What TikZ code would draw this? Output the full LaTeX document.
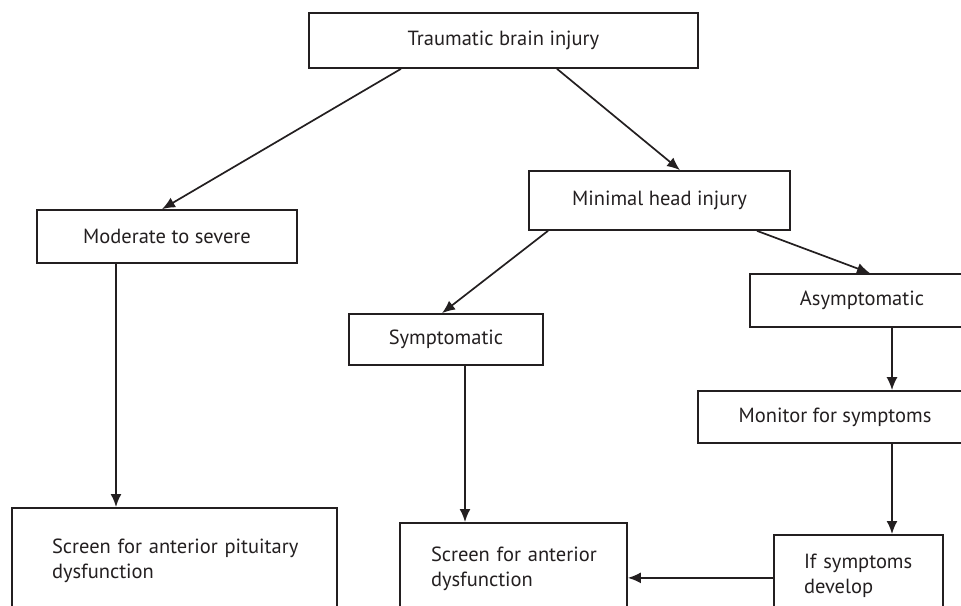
\documentclass[tikz,border=0pt]{standalone}
\usepackage{fontspec}
\setmainfont{PT Sans}
\usepackage{tikz}
\usetikzlibrary{arrows.meta,positioning}
\definecolor{FlowInk}{RGB}{35,31,32}

\begin{document}
\begin{tikzpicture}[
        x=1pt, y=-1pt,
        box/.style={draw=FlowInk, line width=1.7pt, text=FlowInk, inner sep=0pt,
                                align=center, font=\fontsize{20.5}{25}\selectfont},
        lowbox/.style={box, anchor=north, align=left},
        arr/.style={-{Latex[length=13pt,width=11pt]}, line width=1.7pt, draw=FlowInk}
]
    \useasboundingbox (0,0) rectangle (961,605);
    \clip (0,0) rectangle (961,605);
    \node[box, minimum width=389pt, minimum height=55pt] (tbi)   at (503.5,40.5) {Traumatic brain injury};
    \node[box, minimum width=261pt, minimum height=59pt] (mhi)   at (659.5,200.5) {Minimal head injury};
    \node[box, minimum width=260pt, minimum height=53pt] (mod)   at (167,236.5)   {Moderate to severe};
    \node[box, minimum width=194pt, minimum height=51pt] (symp)  at (446,339.5)   {Symptomatic};
    \node[box, minimum width=224pt, minimum height=53pt] (asym)  at (862,300.5)   {Asymptomatic};
    \node[box, minimum width=274pt, minimum height=52pt] (mon)   at (835,417)     {Monitor for symptoms};
    % lower row, cut off by the page edge
    \node[lowbox, inner xsep=40pt, text width=245pt, minimum height=106pt] (scrA) at (174.5,507)
        {\mbox{Screen for anterior pituitary}\\dysfunction};
    \node[lowbox, inner xsep=31pt, text width=165pt, minimum height=92pt]  (scrB) at (513.5,522)
        {\mbox{Screen for anterior}\\dysfunction};
    \node[lowbox, inner xsep=30pt, text width=109pt, minimum height=82pt]  (dev)  at (858.5,534)
        {\mbox{If symptoms}\\develop};
    \draw[arr] ([xshift=-102.5pt]tbi.south) -- ([xshift=-5pt]mod.north);
    \draw[arr] ([xshift=53.5pt]tbi.south) -- ([xshift=20.5pt]mhi.north);
    \draw[arr] ([xshift=-111.5pt]mhi.south) -- ([xshift=-4pt]symp.north);
    \draw[arr] ([xshift=97.5pt]mhi.south) -- ([xshift=8pt]asym.north);
    \draw[arr] ([xshift=-51pt]mod.south) -- ([xshift=-51pt]mod.south |- scrA.north);
    \draw[arr] ([xshift=19pt]symp.south) -- ([xshift=19pt]symp.south |- scrB.north);
    \draw[arr] ([xshift=30pt]asym.south) -- ([xshift=30pt]asym.south |- mon.north);
    \draw[arr] ([xshift=57pt]mon.south) -- ([xshift=57pt]mon.south |- dev.north);
    \draw[arr] ([yshift=-2pt]dev.west) -- ([yshift=-2pt]dev.west -| scrB.east);
\end{tikzpicture}
\end{document}
